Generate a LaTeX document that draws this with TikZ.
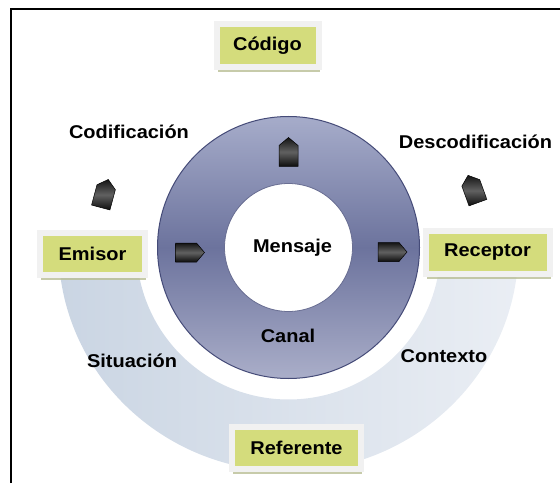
\documentclass[tikz,border=0pt]{standalone}
\usepackage{fontspec}
\setmainfont{Liberation Sans}[FakeStretch=1.08]
\usetikzlibrary{shadows}
\definecolor{boxgreen}{HTML}{D4DC7C}
\definecolor{boxframe}{HTML}{F1F1F1}
\definecolor{boxshadow}{HTML}{B9BE95}
\definecolor{ringtop}{HTML}{A6ACCA}
\definecolor{ringmid}{HTML}{6C739D}
\definecolor{ringbot}{HTML}{AAAEC9}
\definecolor{ringedge}{HTML}{454B78}
\definecolor{arcleft}{HTML}{CAD5E3}
\definecolor{arcright}{HTML}{EAEEF4}
\begin{document}
\begin{tikzpicture}[x=1pt,y=1pt,
  lbl/.style={font=\fontsize{18.5}{20}\selectfont\bfseries, inner sep=0pt},
  gbox/.style={lbl, rectangle, fill=boxgreen, draw=boxframe, line width=6pt,
    drop shadow={shadow xshift=1pt, shadow yshift=-5pt, fill=boxshadow, opacity=0.8}},
  homeplate/.pic={
    \shade[draw=black, line width=0.5pt, top color=black!92, bottom color=black!95, middle color=black!62]
      (-14.5,-9.5) -- (6.5,-9.5) -- (14.5,0) -- (6.5,9.5) -- (-14.5,9.5) -- cycle;
  },
]
\useasboundingbox (0,0) rectangle (560,483);
% frame
\draw[line width=2pt] (11,0) -- (11,473.5) -- (560,473.5);
\coordinate (C) at (288.5,235.5);
% light lower half ring
\shade[left color=arcleft, right color=arcright]
  (58.5,235.5) arc[start angle=180, end angle=360, x radius=230, y radius=224]
  -- (440.5,235.5) arc[start angle=360, end angle=180, radius=152] -- cycle;
% dark ring
\shade[even odd rule, top color=ringtop, bottom color=ringbot, middle color=ringmid]
  (C) circle (131) (C) circle (64);
\draw[ringedge, line width=1pt] (C) circle (131);
\draw[ringedge!80, line width=0.8pt] (C) circle (64);
% arrows
\pic at (190,230.5) {homeplate};
\pic at (392.5,231) {homeplate};
\pic[rotate=90] at (288.5,331) {homeplate};
\pic[rotate=75] at (104.5,289.5) {homeplate};
\pic[rotate=110] at (473,294) {homeplate};
% boxes
\node[gbox, minimum width=102, minimum height=43] (codigo) at (267.5,437) {Código};
\node[gbox, minimum width=105, minimum height=42] (emisor) at (92.5,229.5) {Emisor};
\node[gbox, minimum width=124, minimum height=43] (receptor) at (487.5,231) {Receptor};
\node[gbox, minimum width=129, minimum height=42] (referente) at (296.5,35.5) {Referente};
% labels
\node[lbl] (codif) at (129,351) {Codificación};
\node[lbl] (descodif) at (475.5,341) {Descodificación};
\node[lbl] (mensaje) at (292.5,235) {Mensaje};
\node[lbl] (canal) at (288,147) {Canal};
\node[lbl] (situacion) at (132,122) {Situación};
\node[lbl] (contexto) at (444,127) {Contexto};
\end{tikzpicture}
\end{document}
